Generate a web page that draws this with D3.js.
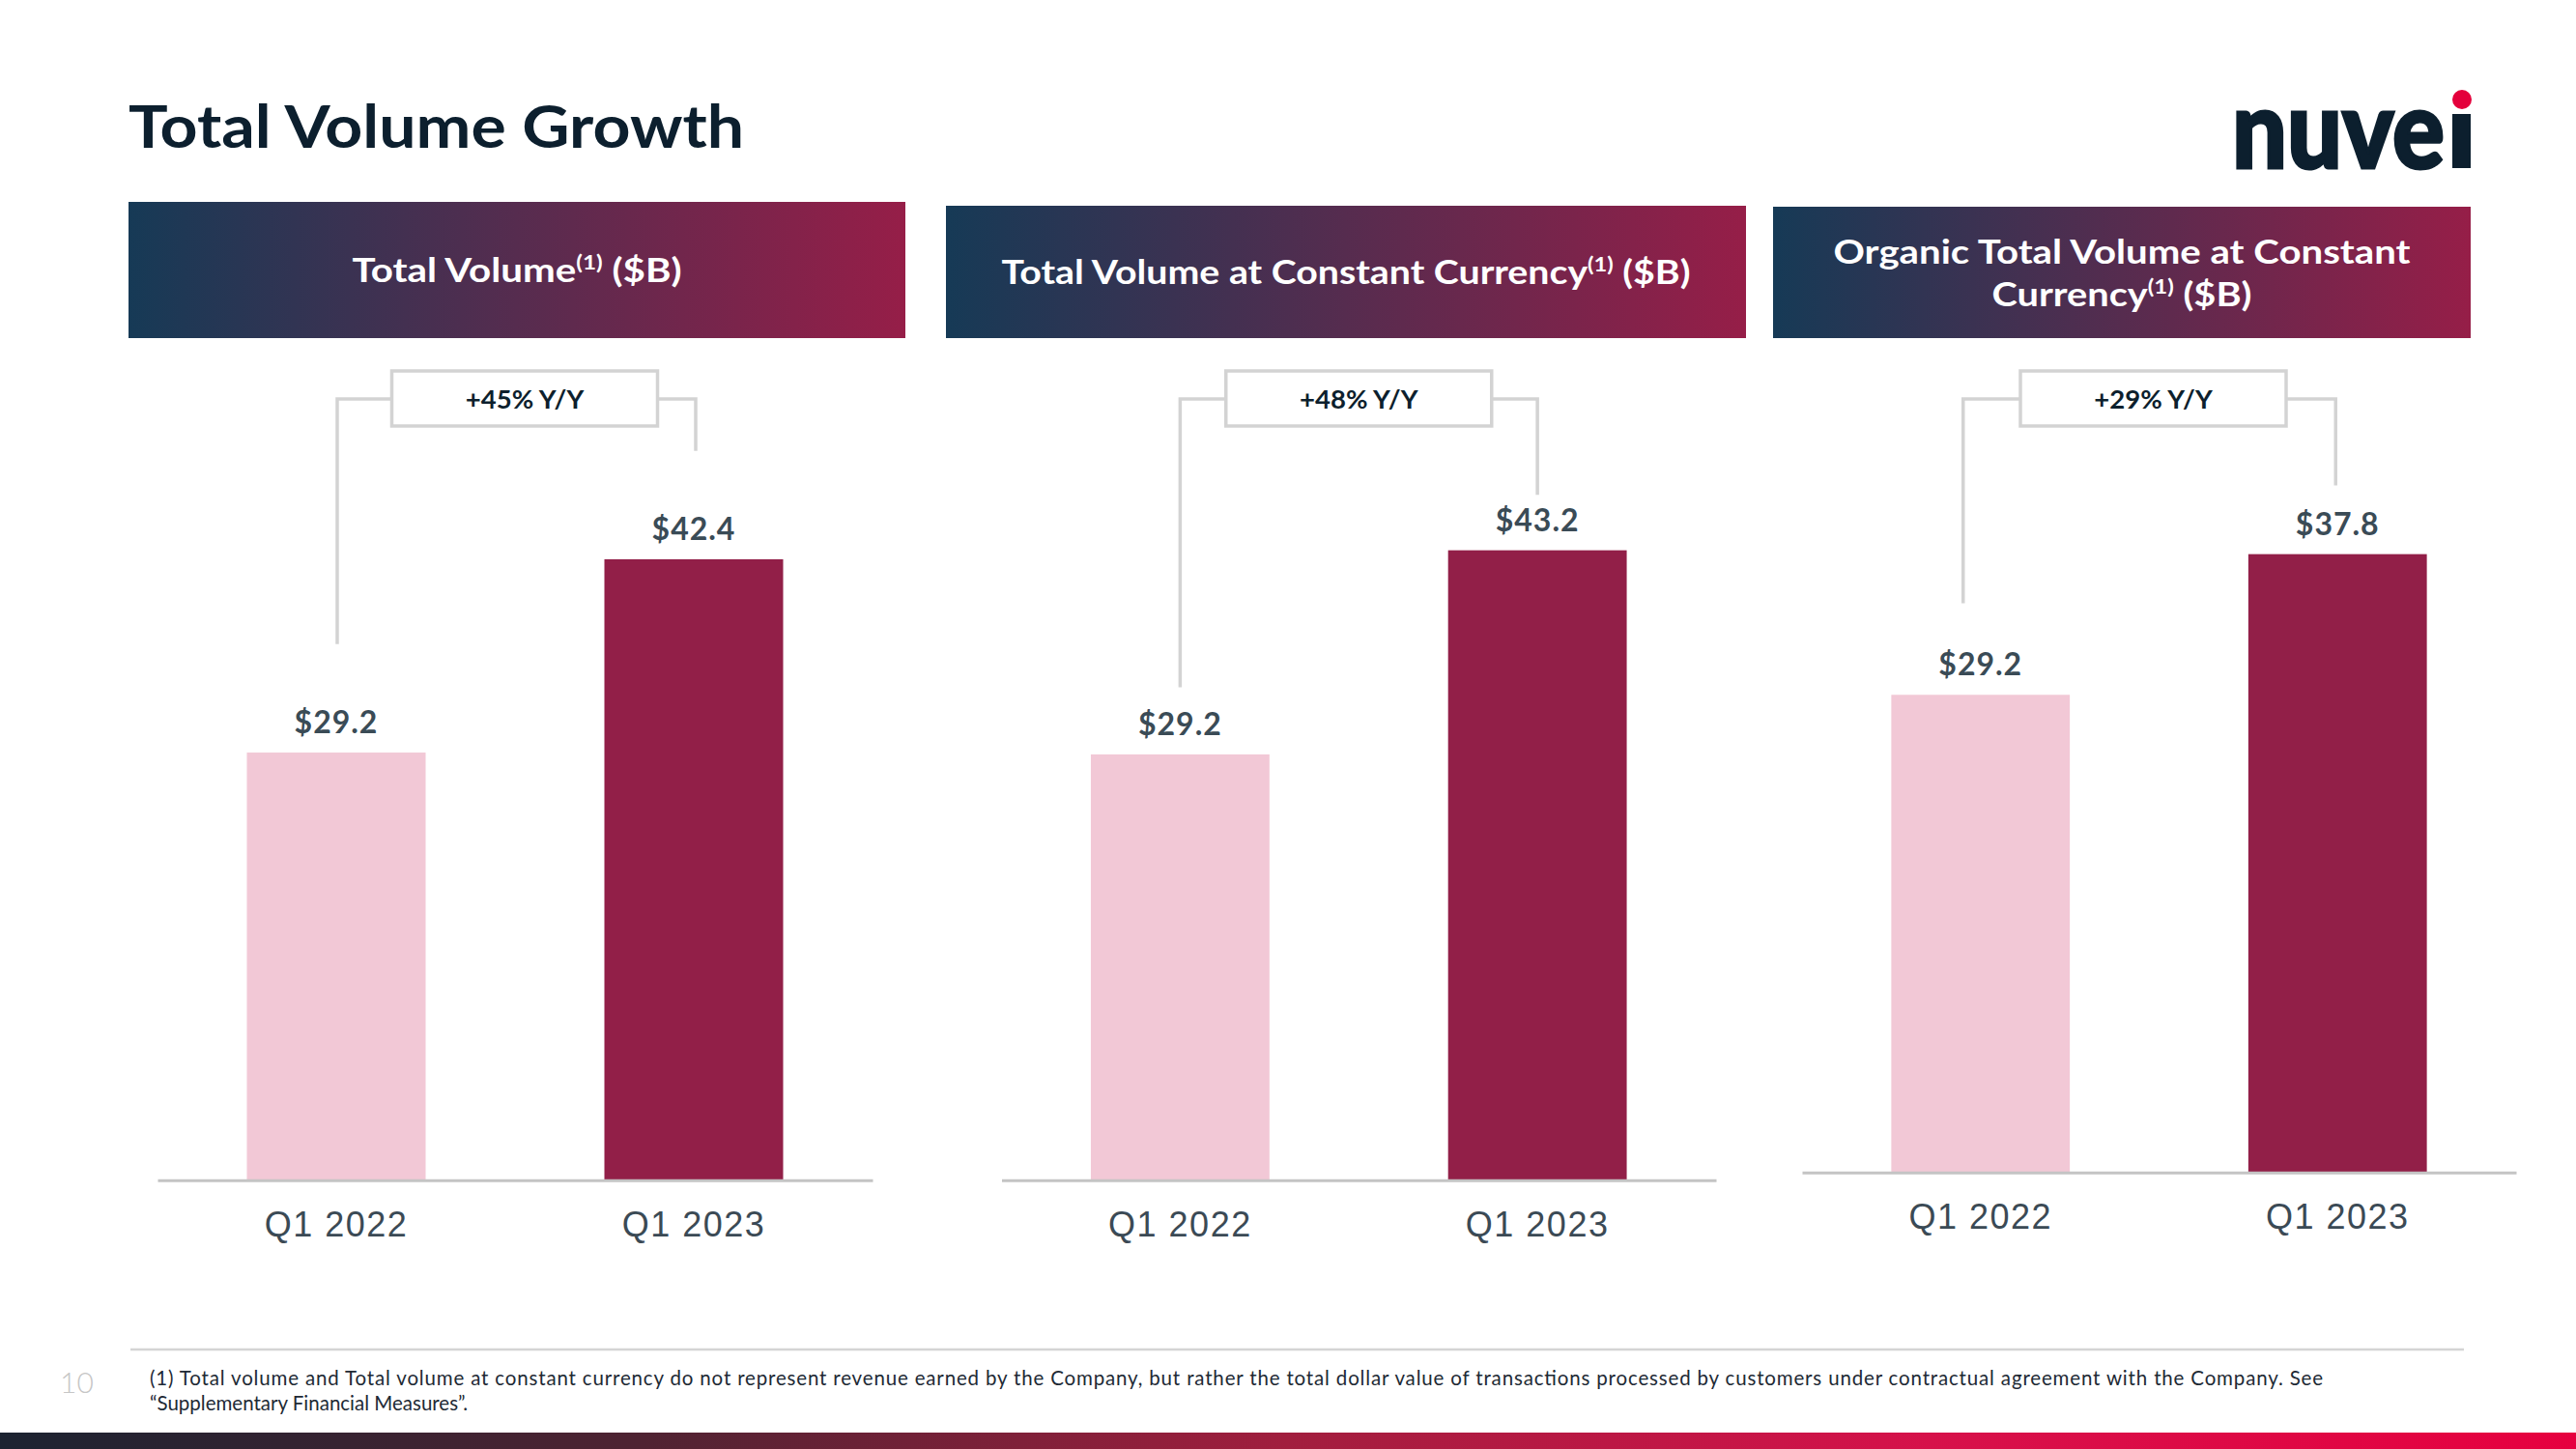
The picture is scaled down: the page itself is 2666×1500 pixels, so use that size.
<!DOCTYPE html>
<html>
<head>
<meta charset="utf-8">
<script src="https://cdn.jsdelivr.net/npm/d3@7"></script>
<style>
  html, body { margin: 0; padding: 0; background: #ffffff; }
  svg { display: block; }
</style>
</head>
<body>
<div id="chart"></div>
<script>
// ---------------- DATA ----------------
const categories = ["Q1 2022", "Q1 2023"];
const totalVolume = [29.2, 42.4];
const totalVolumeCC = [29.2, 43.2];
const organicVolumeCC = [29.2, 37.8];
const growthLabels = ["+45% Y/Y", "+48% Y/Y", "+29% Y/Y"];
// bracket leg ends, in value units (Q1 2022 leg, Q1 2023 leg)
const bracketLegEnds = [[36.6, 49.8], [33.8, 47.0], [34.8, 42.0]];
// panel headings: lines of [text, isSuperscript]
const panelTitles = [
  [[["Total Volume", false], ["(1)", true], [" ($B)", false]]],
  [[["Total Volume at Constant Currency", false], ["(1)", true], [" ($B)", false]]],
  [[["Organic Total Volume at Constant", false]],
   [["Currency", false], ["(1)", true], [" ($B)", false]]]
];
const seriesList = [totalVolume, totalVolumeCC, organicVolumeCC];
const pageTitle = "Total Volume Growth";
const footnoteLines = [
  "(1) Total volume and Total volume at constant currency do not represent revenue earned by the Company, but rather the total dollar value of transactions processed by customers under contractual agreement with the Company. See",
  "\u201CSupplementary Financial Measures\u201D."
];
const pageNumber = "10";

// ---------------- LAYOUT ----------------
const W = 2666, H = 1500;
const layout = [
  { x0: 163, x1: 903, axisY: 1221.7, yMax: 55.26, head: { x: 133, y: 209, w: 804, h: 141 }, headW: [341], boxDx: 10, legDx: [1, 2] },
  { x0: 1036.5, x1: 1776, axisY: 1221.7, yMax: 55.5, head: { x: 979, y: 213, w: 828, h: 137 }, headW: [713], boxDx: 0, legDx: [0, 0] },
  { x0: 1865, x1: 2604, axisY: 1213.7, yMax: 49.0, head: { x: 1835, y: 214, w: 722, h: 136 }, headW: [597, 269], boxDx: -6, legDx: [-18, -2] }
];
const plotTop = 384;
const boxW = 275, boxH = 57, boxTop = 384, bracketY = 413;
const barColors = ["#f2c8d6", "#921f48"];
const sans = "Lato, 'Open Sans', 'DejaVu Sans', sans-serif";
const arial = "'Liberation Sans', Arial, sans-serif";

const svg = d3.select("#chart").append("svg")
  .attr("width", W).attr("height", H)
  .attr("viewBox", `0 0 ${W} ${H}`);

const defs = svg.append("defs");
const hg = defs.append("linearGradient").attr("id", "headGrad")
  .attr("x1", "0%").attr("x2", "100%").attr("y1", "0%").attr("y2", "0%");
hg.append("stop").attr("offset", "0%").attr("stop-color", "#163a56");
hg.append("stop").attr("offset", "100%").attr("stop-color", "#961e48");

const bg = defs.append("linearGradient").attr("id", "bottomGrad")
  .attr("x1", "0%").attr("x2", "100%").attr("y1", "0%").attr("y2", "0%");
[["0%", "#1c2331"], ["25%", "#4f2332"], ["50%", "#a11e3e"], ["75%", "#d6114a"], ["100%", "#e6003f"]]
  .forEach(s => bg.append("stop").attr("offset", s[0]).attr("stop-color", s[1]));

// Title
svg.append("text").attr("x", 133).attr("y", 153)
  .attr("font-family", sans).attr("font-weight", 700).attr("font-size", 62)
  .attr("fill", "#0c1f2e")
  .attr("textLength", 637).attr("lengthAdjust", "spacingAndGlyphs")
  .text(pageTitle);

// Logo
const logo = svg.append("g");
logo.append("text").attr("x", 2310).attr("y", 174)
  .attr("font-family", sans).attr("font-weight", 900).attr("font-size", 112)
  .attr("fill", "#0c1f2e").attr("stroke", "#0c1f2e").attr("stroke-width", 3)
  .attr("textLength", 220).attr("lengthAdjust", "spacingAndGlyphs")
  .text("nuve");
logo.append("rect").attr("x", 2538).attr("y", 118).attr("width", 19).attr("height", 56).attr("fill", "#0c1f2e");
logo.append("circle").attr("cx", 2548).attr("cy", 103).attr("r", 10).attr("fill", "#e4003b");

// Panels
layout.forEach((L, i) => {
  const data = seriesList[i];
  const g = svg.append("g");

  // header box
  g.append("rect").attr("x", L.head.x).attr("y", L.head.y)
    .attr("width", L.head.w).attr("height", L.head.h).attr("fill", "url(#headGrad)");
  const lines = panelTitles[i];
  const cy = L.head.y + L.head.h / 2;
  const lh = 44;
  lines.forEach((segs, li) => {
    const base = cy + 12.5 + (li - (lines.length - 1) / 2) * lh;
    const t = g.append("text").attr("x", L.head.x + L.head.w / 2).attr("y", base)
      .attr("text-anchor", "middle").attr("font-family", sans)
      .attr("font-weight", 700).attr("font-size", 35).attr("fill", "#ffffff")
      .attr("textLength", L.headW[li]).attr("lengthAdjust", "spacingAndGlyphs");
    let n = 0;
    segs.forEach(s => {
      if (s[1]) {
        t.append("tspan").attr("font-size", 21).attr("dy", -13).text(s[0]);
      } else {
        const ts = t.append("tspan").text(s[0]);
        if (n > 0) ts.attr("dy", 13);
      }
      n++;
    });
  });

  // scales
  const x = d3.scaleBand().domain(categories).range([L.x0, L.x1])
    .paddingInner(0.5).paddingOuter(0.25);
  const y = d3.scaleLinear().domain([0, L.yMax]).range([L.axisY, plotTop]);

  // bars
  g.selectAll("rect.bar").data(data).enter().append("rect")
    .attr("class", "bar")
    .attr("x", (d, j) => x(categories[j]))
    .attr("y", d => y(d))
    .attr("width", x.bandwidth())
    .attr("height", d => y(0) - y(d))
    .attr("fill", (d, j) => barColors[j]);

  // value labels
  g.selectAll("text.val").data(data).enter().append("text")
    .attr("class", "val")
    .attr("x", (d, j) => x(categories[j]) + x.bandwidth() / 2)
    .attr("y", d => y(d) - 20)
    .attr("text-anchor", "middle").attr("font-family", sans)
    .attr("font-weight", 700).attr("font-size", 32).attr("letter-spacing", "1px")
    .attr("fill", "#3a4b56")
    .text(d => "$" + d3.format(".1f")(d));

  // axis
  const ax = g.append("g").attr("transform", `translate(0,${L.axisY})`)
    .call(d3.axisBottom(x).tickSize(0).tickSizeOuter(0));
  ax.select(".domain").attr("stroke", "#c4c4c4").attr("stroke-width", 3);
  ax.selectAll(".tick text")
    .attr("y", 58).attr("dy", 0)
    .attr("font-family", arial).attr("font-size", 36)
    .attr("letter-spacing", "1.5px")
    .attr("fill", "#3b4a55");

  // bracket
  const cx1 = x(categories[0]) + x.bandwidth() / 2 + L.legDx[0];
  const cx2 = x(categories[1]) + x.bandwidth() / 2 + L.legDx[1];
  const bc = (x(categories[0]) + x(categories[1]) + x.bandwidth()) / 2 + L.boxDx;
  const bl = bc - boxW / 2, br = bc + boxW / 2;
  const lineStyle = sel => sel.attr("fill", "none").attr("stroke", "#d3d3d3").attr("stroke-width", 3.5);
  g.append("path").call(lineStyle)
    .attr("d", d3.line()([[bl, bracketY], [cx1, bracketY], [cx1, y(bracketLegEnds[i][0])]]));
  g.append("path").call(lineStyle)
    .attr("d", d3.line()([[br, bracketY], [cx2, bracketY], [cx2, y(bracketLegEnds[i][1])]]));
  g.append("rect").attr("x", bl).attr("y", boxTop).attr("width", boxW).attr("height", boxH)
    .attr("fill", "#ffffff").attr("stroke", "#d3d3d3").attr("stroke-width", 3.5);
  g.append("text").attr("x", bc).attr("y", boxTop + boxH / 2 + 10)
    .attr("text-anchor", "middle").attr("font-family", sans)
    .attr("font-weight", 700).attr("font-size", 27.5).attr("fill", "#0d1f2d")
    .text(growthLabels[i]);
});

// footnote separator
svg.append("line").attr("x1", 135).attr("x2", 2550).attr("y1", 1397).attr("y2", 1397)
  .attr("stroke", "#d4d4d4").attr("stroke-width", 2.5);
svg.append("text").attr("x", 62).attr("y", 1442)
  .attr("font-family", sans).attr("font-weight", 300).attr("font-size", 30)
  .attr("fill", "#c6c6c6").text(pageNumber);
footnoteLines.forEach((l, k) => {
  const t = svg.append("text").attr("x", 155).attr("y", 1434 + k * 26)
    .attr("font-family", sans).attr("font-size", 20.5).attr("fill", "#1e2a35").text(l);
  if (k === 0) t.attr("textLength", 2249).attr("lengthAdjust", "spacing");
});

// bottom bar
svg.append("rect").attr("x", 0).attr("y", 1483).attr("width", W).attr("height", 17)
  .attr("fill", "url(#bottomGrad)");
</script>
</body>
</html>
